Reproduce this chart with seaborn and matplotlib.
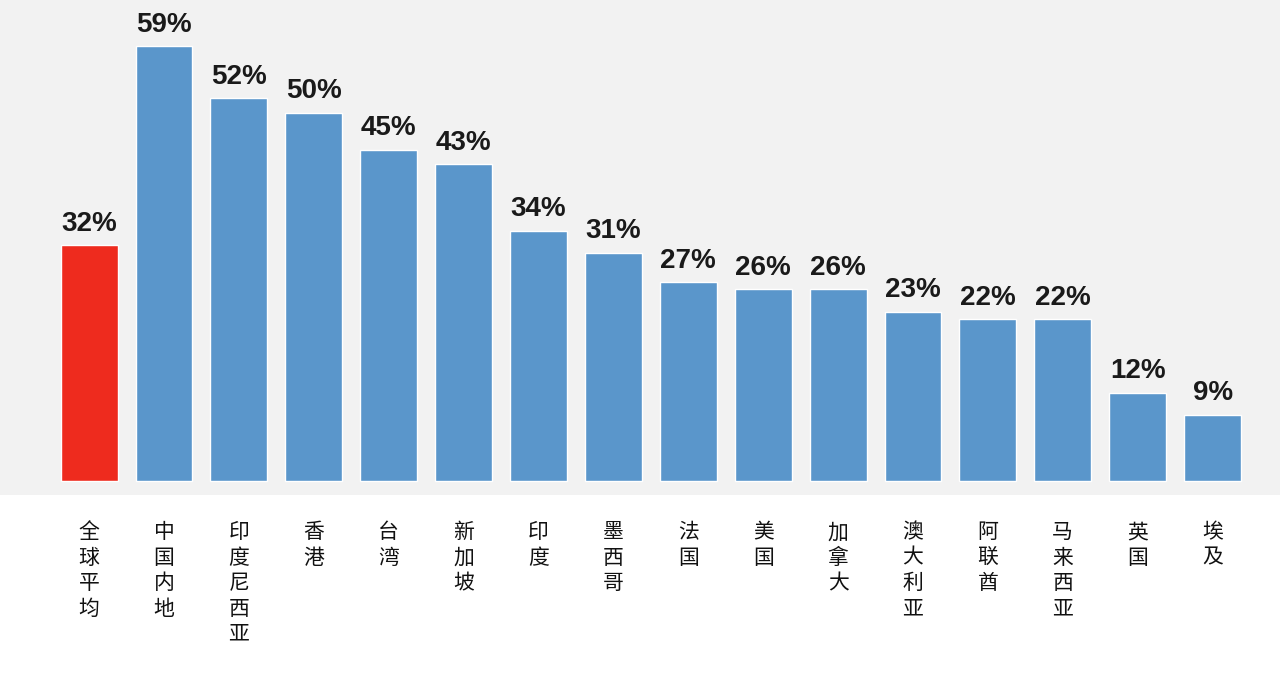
import matplotlib
matplotlib.use('Agg')
import matplotlib.pyplot as plt
import pandas as pd
import seaborn as sns

# Data
regions = ['全球平均', '中国内地', '印度尼西亚', '香港', '台湾', '新加坡', '印度', '墨西哥',
           '法国', '美国', '加拿大', '澳大利亚', '阿联酋', '马来西亚', '英国', '埃及']
shares = [32, 59, 52, 50, 45, 43, 34, 31, 27, 26, 26, 23, 22, 22, 12, 9]

RED = '#ee2b1e'
BLUE = '#5a96cb'
BG = '#f2f2f2'

sns.set_style('white')
plt.rcParams['font.family'] = ['Noto Sans CJK SC', 'DejaVu Sans']

df = pd.DataFrame({'region': regions, 'share': shares})
colors = [RED] + [BLUE] * (len(regions) - 1)

fig = plt.figure(figsize=(12.8, 6.78), dpi=100, facecolor='white')
ax = fig.add_axes([0, 0.27, 1, 0.73])

sns.barplot(data=df, x='region', y='share', hue='region', palette=colors,
            legend=False, width=0.76, saturation=1, edgecolor='white',
            linewidth=1, ax=ax)

ax.set_xlim(-1.19, 15.9)
ax.set_ylim(-1.9, 65.3)
ax.set_facecolor(BG)
sns.despine(ax=ax, left=True, bottom=True)
ax.set_xticks([])
ax.set_yticks([])
ax.set_xlabel('')
ax.set_ylabel('')

# value labels on top of the bars
for i, v in enumerate(shares):
    ax.annotate(f'{v}%', (i, v), xytext=(0, 6), textcoords='offset points',
                ha='center', va='bottom', fontsize=20, fontweight='bold',
                family=['Liberation Sans', 'DejaVu Sans'], color='#1a1a1a')

# vertical category labels under the chart
for i, name in enumerate(regions):
    ax.annotate('\n'.join(name), (i, -1.9), xytext=(0, -19), textcoords='offset points',
                ha='center', va='top', fontsize=15, fontweight='medium',
                linespacing=1.2, color='#111111')

fig.savefig('out.png', dpi=100, facecolor='white')
